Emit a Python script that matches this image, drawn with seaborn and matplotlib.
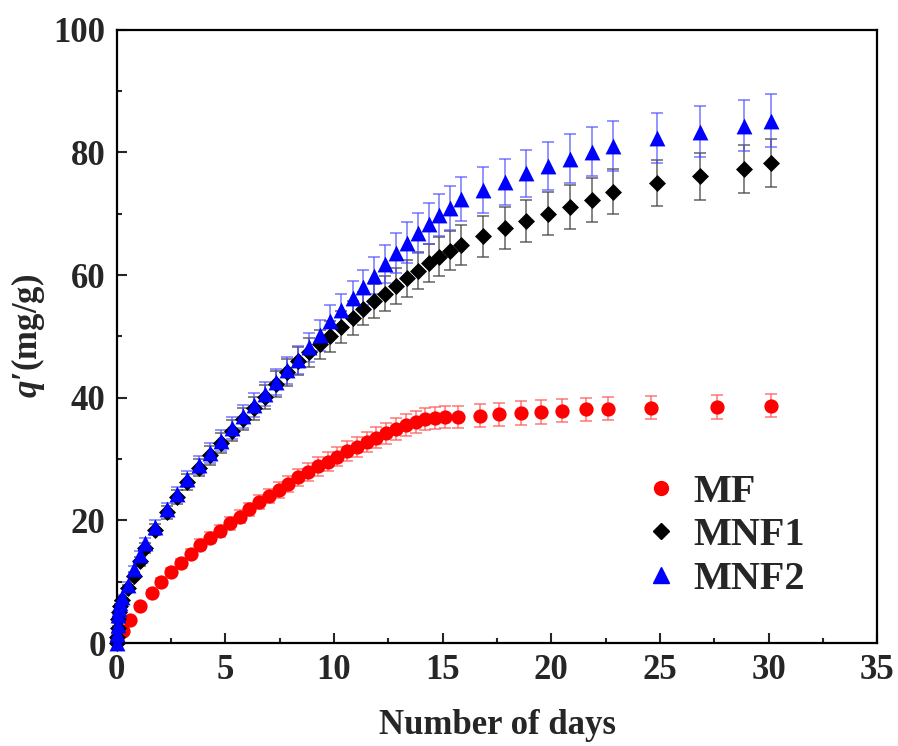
import matplotlib
matplotlib.use("Agg")
import matplotlib.pyplot as plt
from matplotlib.lines import Line2D
import seaborn as sns
import pandas as pd

# ---------------- data ----------------
mf_days = [0, 0.3, 0.6, 1.05, 1.6, 2.05, 2.5, 2.95, 3.4, 3.85, 4.3, 4.75, 5.2, 5.65,
           6.1, 6.55, 7.0, 7.45, 7.9, 8.35, 8.8, 9.25, 9.7, 10.15, 10.6, 11.05, 11.5,
           11.95, 12.4, 12.85, 13.3, 13.75, 14.2, 14.65, 15.1, 15.7, 16.7, 17.6, 18.6,
           19.5, 20.5, 21.6, 22.6, 24.6, 27.6, 30.1]
mf_q = [0.5, 2.0, 3.8, 6.0, 8.2, 10.0, 11.6, 13.0, 14.6, 16.0, 17.2, 18.3, 19.5, 20.6,
        21.8, 23.0, 24.0, 25.0, 26.0, 27.0, 27.9, 28.8, 29.6, 30.4, 31.3, 32.0, 32.8,
        33.5, 34.2, 34.9, 35.5, 36.0, 36.5, 36.7, 36.8, 36.9, 37.1, 37.3, 37.5,
        37.7, 37.9, 38.1, 38.2, 38.4, 38.5, 38.7]
mf_err = [0.1, 0.2, 0.3, 0.4, 0.5, 0.6, 0.7, 0.7, 0.8, 0.9, 0.9, 1.0, 1.0, 1.1,
          1.1, 1.2, 1.2, 1.3, 1.3, 1.4, 1.4, 1.5, 1.5, 1.5, 1.6, 1.6, 1.6,
          1.7, 1.7, 1.8, 1.8, 1.8, 1.8, 1.8, 1.8, 1.8, 1.9, 1.9, 1.9,
          1.9, 1.9, 1.9, 1.9, 1.9, 1.9, 1.9]

mnf_days = [0, 0.02, 0.04, 0.08, 0.12, 0.17, 0.25, 0.5, 0.8, 1.05, 1.3, 1.75, 2.3,
            2.75, 3.25, 3.8, 4.3, 4.8, 5.3, 5.8, 6.3, 6.8, 7.35, 7.85, 8.35, 8.85,
            9.35, 9.8, 10.3, 10.85, 11.35, 11.85, 12.35, 12.85, 13.35, 13.85, 14.35,
            14.85, 15.35, 15.85, 16.85, 17.85, 18.85, 19.85, 20.85, 21.85, 22.85,
            24.85, 26.85, 28.85, 30.1]
mnf1_q = [0, 1.0, 2.5, 4.0, 5.0, 6.0, 7.0, 9.0, 11.0, 13.3, 15.5, 18.5, 21.3,
          23.8, 26.3, 28.6, 30.6, 32.6, 34.6, 36.5, 38.3, 40.1, 42.2, 44.2, 46.0, 47.4,
          48.7, 50.0, 51.5, 53.0, 54.5, 55.8, 57.0, 58.2, 59.5, 60.7, 61.9,
          63.0, 64.0, 64.9, 66.3, 67.7, 68.8, 70.0, 71.1, 72.3, 73.6,
          75.0, 76.1, 77.3, 78.3]
mnf1_err = [0, 0.1, 0.1, 0.2, 0.3, 0.3, 0.4, 0.5, 0.6, 0.7, 0.8, 0.9, 1.1,
            1.2, 1.3, 1.4, 1.5, 1.6, 1.7, 1.8, 1.9, 2.0, 2.1, 2.2, 2.3, 2.4,
            2.4, 2.5, 2.6, 2.7, 2.7, 2.8, 2.9, 2.9, 3.0, 3.0, 3.1,
            3.2, 3.2, 3.3, 3.3, 3.4, 3.4, 3.5, 3.6, 3.6, 3.7,
            3.8, 3.8, 3.9, 3.9]
mnf2_q = [0, 1.5, 3.0, 4.5, 5.5, 6.5, 7.5, 9.5, 12.0, 14.3, 16.3, 19.0, 21.8,
          24.3, 26.7, 29.0, 31.0, 33.0, 35.0, 37.0, 38.8, 40.6, 42.6, 44.5, 46.2, 48.2,
          50.2, 52.5, 54.3, 56.2, 58.0, 59.9, 61.8, 63.6, 65.3, 66.9, 68.4,
          69.8, 71.0, 72.4, 73.9, 75.2, 76.6, 77.8, 79.0, 80.1, 81.1,
          82.4, 83.4, 84.4, 85.2]
mnf2_err = [0, 0.1, 0.2, 0.2, 0.3, 0.3, 0.4, 0.5, 0.6, 0.7, 0.8, 1.0, 1.1,
            1.2, 1.3, 1.5, 1.6, 1.7, 1.8, 1.9, 1.9, 2.0, 2.1, 2.2, 2.3, 2.4,
            2.5, 2.6, 2.7, 2.8, 2.9, 3.0, 3.1, 3.2, 3.3, 3.3, 3.4,
            3.5, 3.6, 3.6, 3.7, 3.8, 3.8, 3.9, 4.0, 4.0, 4.1,
            4.1, 4.2, 4.2, 4.3]

series_names = ["MF", "MNF1", "MNF2"]
x_ticks = [0, 5, 10, 15, 20, 25, 30, 35]
y_ticks = [0, 20, 40, 60, 80, 100]

# ---------------- style ----------------
sns.set_style("ticks")
plt.rcParams["font.family"] = ["Liberation Serif", "DejaVu Serif"]
plt.rcParams["font.weight"] = "bold"
plt.rcParams["mathtext.fontset"] = "custom"
plt.rcParams["mathtext.it"] = "Liberation Serif:italic:bold"
plt.rcParams["mathtext.rm"] = "Liberation Serif:bold"
plt.rcParams["mathtext.bf"] = "Liberation Serif:bold"

fig = plt.figure(figsize=(8.98, 7.46), dpi=100)
ax = fig.add_axes([0.130, 0.138, 0.847, 0.822])

styles = {
    "MF":   dict(color="#ff0000", marker="o", s=105, ecolor=(1.0, 0.35, 0.35, 0.75)),
    "MNF1": dict(color="#000000", marker="D", s=75,  ecolor=(0.25, 0.25, 0.25, 0.75)),
    "MNF2": dict(color="#0000ff", marker="^", s=130, ecolor=(0.3, 0.3, 1.0, 0.7)),
}
data = {
    "MF": (mf_days, mf_q, mf_err),
    "MNF1": (mnf_days, mnf1_q, mnf1_err),
    "MNF2": (mnf_days, mnf2_q, mnf2_err),
}

for z, name in enumerate(series_names):
    d, q, e = data[name]
    st = styles[name]
    ax.errorbar(d, q, yerr=e, fmt="none", ecolor=st["ecolor"], elinewidth=1.2,
                capsize=4.5, capthick=1.2, zorder=2 + z * 0.1, clip_on=False)

for z, name in enumerate(series_names):
    d, q, e = data[name]
    st = styles[name]
    df = pd.DataFrame({"day": d, "q": q})
    sns.scatterplot(data=df, x="day", y="q", ax=ax, color=st["color"],
                    marker=st["marker"], s=st["s"], linewidth=0, zorder=3 + z,
                    clip_on=False, legend=False)

ax.set_xlim(0, 35)
ax.set_ylim(0, 100)
ax.set_xticks(x_ticks)
ax.set_yticks(y_ticks)
ax.set_xticks([2.5, 7.5, 12.5, 17.5, 22.5, 27.5, 32.5], minor=True)
ax.set_yticks([10, 30, 50, 70, 90], minor=True)
ax.tick_params(axis="both", which="major", direction="in", length=7, width=1.5,
               labelsize=25, pad=8)
ax.tick_params(axis="both", which="minor", direction="in", length=3.5, width=1.5)
for lab in ax.get_xticklabels() + ax.get_yticklabels():
    lab.set_fontweight("bold")
for sp in ax.spines.values():
    sp.set_visible(True)
    sp.set_linewidth(1.6)
    sp.set_color("black")

ax.set_xlabel("Number of days", fontsize=25, fontweight="bold", labelpad=16)
ax.set_ylabel(r"$q$′(mg/g)", fontsize=25, fontweight="bold", labelpad=5)

handles = [Line2D([], [], linestyle="none", marker=styles[n]["marker"],
                  color=styles[n]["color"],
                  markersize={"MF": 10, "MNF1": 8.5, "MNF2": 11}[n]) for n in series_names]
leg = ax.legend(handles, series_names, loc="lower right", bbox_to_anchor=(0.952, 0.015),
                frameon=False, prop={"family": "Liberation Serif", "weight": "bold", "size": 29},
                handletextpad=0.3, labelspacing=0.15, handlelength=1.0)

fig.savefig("out.png", dpi=100)
